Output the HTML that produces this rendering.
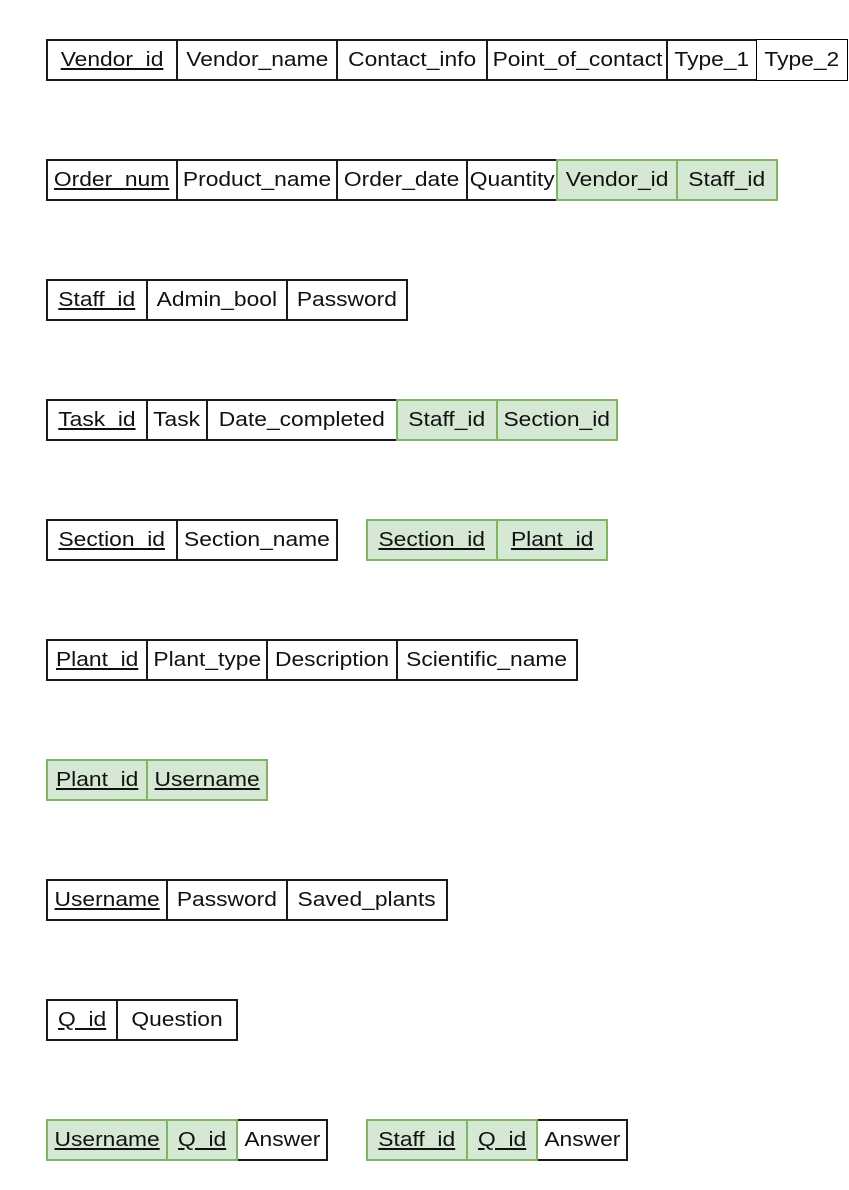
<!DOCTYPE html>
<html><head><meta charset="utf-8"><style>
body{margin:0;width:849px;height:1190px;background:#fff;position:relative;overflow:hidden;font-family:"Liberation Sans",Arial,sans-serif}
.c{position:absolute;box-sizing:border-box;height:42px;border:2px solid #1a1a1a;display:flex;align-items:center;justify-content:center;font-size:20px;color:#111;white-space:nowrap;background:#fff}
.c span{display:inline-block;transform:scaleX(1.14)}
.g{background:#d5e8d4;border-color:#82b366;z-index:1}
.t{border:1px solid #000}
.u{text-decoration:underline;text-underline-offset:2px}
</style></head><body>
<script>
const rows=[
[40,[[47,177,'Vendor_id',1],[177,337,'Vendor_name'],[337,487,'Contact_info'],[487,667,'Point_of_contact'],[667,757,'Type_1'],[757,847,'Type_2',0,0,1]]],
[160,[[47,177,'Order_num',1],[177,337,'Product_name'],[337,467,'Order_date'],[467,557,'Quantity'],[557,677,'Vendor_id',0,1],[677,777,'Staff_id',0,1]]],
[280,[[47,147,'Staff_id',1],[147,287,'Admin_bool'],[287,407,'Password']]],
[400,[[47,147,'Task_id',1],[147,207,'Task'],[207,397,'Date_completed'],[397,497,'Staff_id',0,1],[497,617,'Section_id',0,1]]],
[520,[[47,177,'Section_id',1],[177,337,'Section_name'],[367,497,'Section_id',1,1],[497,607,'Plant_id',1,1]]],
[640,[[47,147,'Plant_id',1],[147,267,'Plant_type'],[267,397,'Description'],[397,577,'Scientific_name']]],
[760,[[47,147,'Plant_id',1,1],[147,267,'Username',1,1]]],
[880,[[47,167,'Username',1],[167,287,'Password'],[287,447,'Saved_plants']]],
[1000,[[47,117,'Q_id',1],[117,237,'Question']]],
[1120,[[47,167,'Username',1,1],[167,237,'Q_id',1,1],[237,327,'Answer'],[367,467,'Staff_id',1,1],[467,537,'Q_id',1,1],[537,627,'Answer']]]
];
let h='';
for(const [y,cs] of rows)for(const [a,b,t,u,g,th] of cs){
h+=`<div class="c${g?' g':''}${th?' t':''}" style="left:${a-1}px;top:${y-1}px;width:${b-a+2}px"><span class="${u?'u':''}">${t}</span></div>`;}
document.write(h);
</script>
</body></html>
